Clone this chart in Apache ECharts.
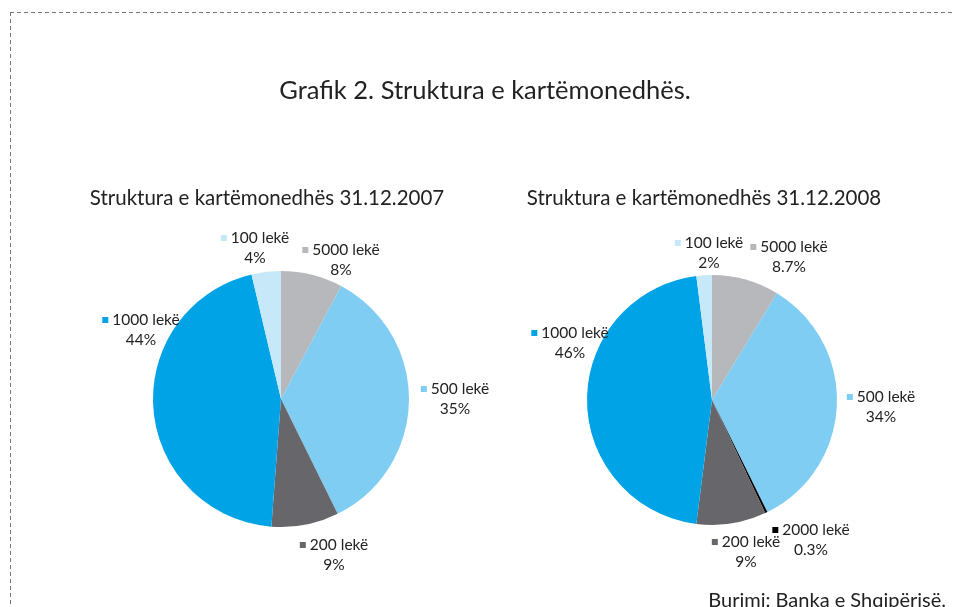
<!DOCTYPE html>
<html>
<head>
<meta charset="utf-8">
<script src="https://cdn.jsdelivr.net/npm/echarts@6/dist/echarts.min.js"></script>
<style>html,body{margin:0;padding:0;background:#fff}#c{width:955px;height:607px}</style>
</head>
<body>
<div id="c"></div>
<script>
var names2007 = ['5000 lekë', '500 lekë', '200 lekë', '1000 lekë', '100 lekë'];
// slice shares as drawn
var values2007 = [7.8, 34.9, 8.5, 45.1, 3.7];
// shares as printed on the labels
var labels2007 = ['8%', '35%', '9%', '44%', '4%'];
var names2008 = ['5000 lekë', '500 lekë', '2000 lekë', '200 lekë', '1000 lekë', '100 lekë'];
var values2008 = [8.7, 34, 0.3, 9, 46, 2];
var labels2008 = ['8.7%', '34%', '0.3%', '9%', '46%', '2%'];
var colorMap = {
  '5000 lekë': '#b7b8bb',
  '500 lekë': '#7fcdf3',
  '2000 lekë': '#000000',
  '200 lekë': '#67666b',
  '1000 lekë': '#00a3e6',
  '100 lekë': '#c6e8f9'
};
// label anchor positions (layout)
var labelPos = [
  [[341, 260], [455, 399], [334, 555], [141, 330], [255, 248]],
  [[789, 257], [881, 407], [811, 540], [746, 552], [570, 343], [709, 253]]
];
var FONT = 'Lato, "Open Sans", sans-serif';

function build(names, values, labels) {
  return names.map(function (n, i) {
    return {
      name: n,
      value: values[i],
      pct: labels[i],
      itemStyle: { color: colorMap[n] },
      label: {
        formatter: '{sq|}{t| ' + n + '}\n{t|' + labels[i] + '}',
        rich: {
          sq: { width: 6, height: 6, backgroundColor: colorMap[n] },
          t: { fontSize: 15.5, color: '#222', fontFamily: FONT, lineHeight: 20 }
        }
      }
    };
  });
}

function pieSeries(idx, center, radius, data) {
  return {
    type: 'pie',
    center: center,
    radius: radius,
    startAngle: 90,
    clockwise: true,
    avoidLabelOverlap: false,
    silent: true,
    itemStyle: { borderWidth: 0 },
    labelLine: { show: false },
    label: { show: true, position: 'outside' },
    labelLayout: function (p) {
      var pos = labelPos[idx][p.dataIndex];
      return { x: pos[0], y: pos[1], align: 'center', verticalAlign: 'middle' };
    },
    data: data
  };
}

var chart = echarts.init(document.getElementById('c'), null, { renderer: 'canvas' });
chart.setOption({
  animation: false,
  backgroundColor: '#fff',
  title: [
    { text: 'Grafik 2. Struktura e kartëmonedhës.', left: 480, top: 73, textAlign: 'center',
      textStyle: { fontFamily: FONT, fontWeight: 'normal', fontSize: 25.5, color: '#222' } },
    { text: 'Struktura e kartëmonedhës 31.12.2007', left: 262, top: 183, textAlign: 'center',
      textStyle: { fontFamily: FONT, fontWeight: 'normal', fontSize: 20.5, color: '#222' } },
    { text: 'Struktura e kartëmonedhës 31.12.2008', left: 699, top: 183, textAlign: 'center',
      textStyle: { fontFamily: FONT, fontWeight: 'normal', fontSize: 20.5, color: '#222' } },
    { text: 'Burimi: Banka e Shqipërisë.', right: 4, top: 586,
      textStyle: { fontFamily: FONT, fontWeight: 'normal', fontSize: 20, color: '#222' } }
  ],
  graphic: [
    { type: 'line', shape: { x1: 10, y1: 12.5, x2: 955, y2: 12.5 },
      style: { stroke: '#777', lineWidth: 1, lineDash: [4, 3] } },
    { type: 'line', shape: { x1: 10.5, y1: 12, x2: 10.5, y2: 607 },
      style: { stroke: '#777', lineWidth: 1, lineDash: [4, 3] } }
  ],
  series: [
    pieSeries(0, [281, 399], 128, build(names2007, values2007, labels2007)),
    pieSeries(1, [712, 400], 125, build(names2008, values2008, labels2008))
  ]
});
</script>
</body>
</html>
